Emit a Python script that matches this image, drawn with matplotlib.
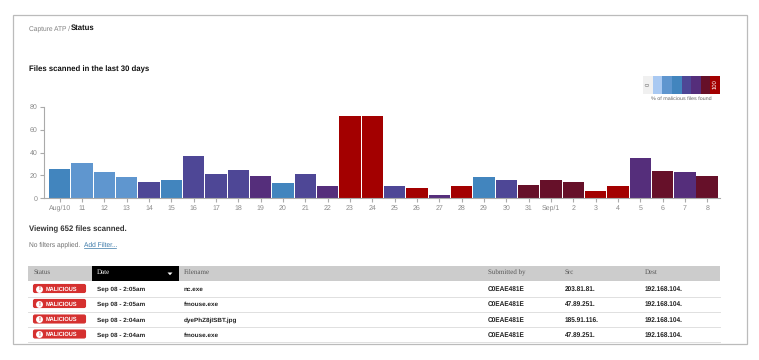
import matplotlib
matplotlib.use('Agg')
import matplotlib.pyplot as plt
from matplotlib.patches import Rectangle, FancyBboxPatch

plt.rcParams['font.family'] = ['Liberation Sans', 'DejaVu Sans']
plt.rcParams['text.hinting'] = 'no_hinting'

W, H = 759, 360

# Chart data
days = ['Aug/10', '11', '12', '13', '14', '15', '16', '17', '18', '19', '20', '21', '22', '23', '24',
        '25', '26', '27', '28', '29', '30', '31', 'Sep/1', '2', '3', '4', '5', '6', '7', '8']
files = [25.6, 30.6, 22.7, 19, 14, 16, 36.7, 21.2, 25, 19.5, 13, 21, 10.8, 72, 72,
         11, 8.7, 3, 11, 19, 16, 11.6, 16, 14.5, 6, 11, 35, 24, 22.7, 19.5]
# colour bucket of each bar, index into legend_colors
buckets = [3, 2, 2, 2, 4, 3, 4, 4, 4, 5, 3, 4, 5, 7, 7,
           4, 7, 5, 7, 3, 4, 6, 6, 6, 7, 7, 5, 6, 5, 6]
legend_colors = ['#f0f0f0', '#a9c9f2', '#5f96cf', '#4285be', '#4e4796', '#552e7b', '#661029', '#a30000']
yticks = [0, 20, 40, 60, 80]

# Table
headers = ['Status', 'Date', 'Filename', 'Submitted by', 'Src', 'Dest']
dates = ['Sep 08 - 2:05am', 'Sep 08 - 2:05am', 'Sep 08 - 2:04am', 'Sep 08 - 2:04am']
filenames = ['nc.exe', 'fmouse.exe', 'dyePhZ8jISBT.jpg', 'fmouse.exe']
submitted = ['C0EAE481E', 'C0EAE481E', 'C0EAE481E', 'C0EAE481E']
sources = ['203.81.81.', '47.89.251.', '185.91.116.', '47.89.251.']
dests = ['192.168.104.', '192.168.104.', '192.168.104.', '192.168.104.']

fig = plt.figure(figsize=(W / 100, H / 100), dpi=100)

# Page layer, in pixel coordinates
page = fig.add_axes([0, 0, 1, 1])
page.set_xlim(0, W)
page.set_ylim(H, 0)
page.axis('off')

page.add_patch(Rectangle((12.5, 15), 734, 329, fc='white', ec='#bbbbbb', lw=0.9))

page.text(29, 30.3, 'Capture ATP /', fontsize=4.8, color='#808080', va='baseline')
page.text(71, 30.3, 'Status', fontsize=5.6, color='#111111', fontweight='bold', va='baseline')
page.text(29, 71.7, 'Files scanned in the last 30 days', fontsize=5.6, color='#111111',
          fontweight='bold', va='baseline')

# Legend strip
cell = 77 / len(legend_colors)
for i, c in enumerate(legend_colors):
    page.add_patch(Rectangle((643 + i * cell, 76), cell, 17.5, fc=c, ec='none'))
page.text(648, 84.5, '0', fontsize=4.2, color='#666666', rotation=90, ha='center', va='center')
page.text(715, 84.5, '100', fontsize=4.2, color='white', rotation=90, ha='center', va='center')
page.text(681.5, 99, '% of malicious files found', fontsize=3.9, color='#666666', ha='center', va='center')

page.text(29, 231.5, 'Viewing 652 files scanned.', fontsize=5.6, color='#333333', fontweight='bold', va='baseline')
page.text(29, 246.5, 'No filters applied.', fontsize=4.8, color='#707070', va='baseline')
page.text(84, 246.5, 'Add Filter...', fontsize=4.8, color='#3a78a8', va='baseline')
page.plot([84, 116], [248, 248], color='#3a78a8', lw=0.5)

# Table header
page.add_patch(Rectangle((28, 266), 692, 15, fc='#cccccc', ec='none'))
page.add_patch(Rectangle((92, 265.5), 87, 15.5, fc='black', ec='none'))
page.fill([167.5, 172.5, 170], [272.5, 272.5, 275.2], color='white', lw=0)
header_x = [34, 97, 184, 488, 565, 645]
for x, h in zip(header_x, headers):
    page.text(x, 274.3, h, fontsize=5, family=['Liberation Serif'], color='white' if h == 'Date' else '#555555',
              va='baseline')

# Table rows
row_y = [289, 304, 319.5, 334.5]
for i, y in enumerate(row_y):
    page.plot([28, 720], [y + 7.5, y + 7.5], color='#e0e0e0', lw=0.7)
    page.add_patch(FancyBboxPatch((33.5, y - 4.5), 52, 8, boxstyle='round,pad=0,rounding_size=1.5',
                                  fc='#d5302f', ec='#d5302f', lw=0.8))
    page.plot([39.3], [y - 0.5], marker='o', ms=5, color='white', mew=0)
    page.text(39.3, y + 1.5, '!', fontsize=4.2, color='#d5302f', fontweight='bold', ha='center', va='baseline')
    page.text(45.7, y + 1.5, 'MALICIOUS', fontsize=4.1, color='white', fontweight='bold', va='baseline')
    page.text(97, y + 2, dates[i], fontsize=4.6, color='#222222', fontweight='bold', va='baseline')
    page.text(184, y + 2, filenames[i], fontsize=4.6, color='#222222', fontweight='bold', va='baseline')
    page.text(488, y + 2, submitted[i], fontsize=4.7, color='#222222', fontweight='bold', va='baseline')
    page.text(565, y + 2, sources[i], fontsize=4.7, color='#222222', fontweight='bold', va='baseline')
    page.text(645, y + 2, dests[i], fontsize=4.7, color='#222222', fontweight='bold', va='baseline')

# Bar chart
ax = fig.add_axes([44 / W, 1 - 198.3 / H, (719.5 - 44) / W, (198.3 - 106.7) / H])
ax.patch.set_alpha(0)
pos = list(range(len(days)))
ax.bar(pos, files, width=0.96, color=[legend_colors[b] for b in buckets])
ax.set_xlim(-0.7, 29.55)
ax.set_ylim(0, 80)
ax.set_xticks(pos)
ax.set_xticklabels(days)
ax.set_yticks(yticks)
ax.tick_params(axis='both', labelsize=5, labelcolor='#888888', color='#aaaaaa', length=3, width=0.8, pad=1.5)
ax.spines['top'].set_visible(False)
ax.spines['right'].set_visible(False)
ax.spines['left'].set_color('#aaaaaa')
ax.spines['bottom'].set_color('#aaaaaa')

fig.savefig('out.png', dpi=100)
